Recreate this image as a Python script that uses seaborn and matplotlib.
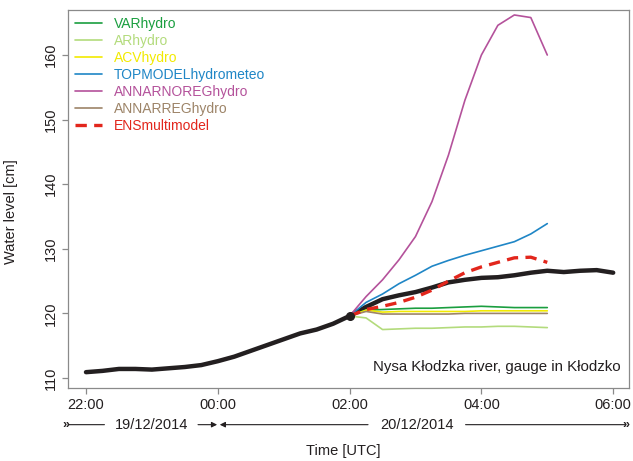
import numpy as np
import pandas as pd
import matplotlib
matplotlib.use("Agg")
import matplotlib.pyplot as plt
import matplotlib.dates as mdates
import matplotlib.transforms as mtransforms
import seaborn as sns

# observed water level, every 15 min from 22:00 (19/12) to 06:00 (20/12)
obs_times = pd.date_range("2014-12-19 22:00", "2014-12-20 06:00", freq="15min")
observed = [110.9, 111.1, 111.4, 111.4, 111.3, 111.5, 111.7, 112.0,
            112.6, 113.3, 114.2, 115.1, 116.0, 116.9, 117.5, 118.4,
            119.6, 121.0, 122.2, 122.8, 123.3, 124.0, 124.8, 125.2,
            125.5, 125.6, 125.9, 126.3, 126.6, 126.4, 126.6, 126.7, 126.3]

# forecasts issued at 02:00, lead time 3 h
fc_times = pd.date_range("2014-12-20 02:00", "2014-12-20 05:00", freq="15min")
var_hydro = [119.6, 120.5, 120.6, 120.7, 120.8, 120.8, 120.9, 121.0, 121.1, 121.0, 120.9, 120.9, 120.9]
ar_hydro = [119.6, 119.3, 117.5, 117.6, 117.7, 117.7, 117.8, 117.9, 117.9, 118.0, 118.0, 117.9, 117.8]
acv_hydro = [119.6, 120.5, 120.2, 120.3, 120.3, 120.3, 120.3, 120.3, 120.4, 120.4, 120.4, 120.4, 120.4]
topmodel = [119.6, 121.7, 123.0, 124.6, 125.9, 127.3, 128.2, 129.0, 129.7, 130.4, 131.1, 132.3, 133.9]
annarnoreg = [119.6, 122.6, 125.2, 128.3, 131.9, 137.3, 144.5, 153.0, 160.0, 164.6, 166.2, 165.8, 160.0]
annarreg = [119.6, 120.3, 119.9, 119.9, 119.9, 119.9, 119.9, 120.0, 120.0, 120.0, 120.0, 120.0, 120.0]
ens = [119.6, 120.6, 121.1, 121.7, 122.5, 123.6, 125.0, 126.3, 127.2, 127.9, 128.6, 128.7, 127.9]

model_names = ["VARhydro", "ARhydro", "ACVhydro", "TOPMODELhydrometeo",
               "ANNARNOREGhydro", "ANNARREGhydro"]
model_values = [var_hydro, ar_hydro, acv_hydro, topmodel, annarnoreg, annarreg]
model_colors = ["#1a9e3f", "#b3db7c", "#f2ea00", "#1f86c6", "#b4529b", "#9d8468"]

tick_times = pd.to_datetime(["2014-12-19 22:00", "2014-12-20 00:00", "2014-12-20 02:00",
                             "2014-12-20 04:00", "2014-12-20 06:00"])
tick_labels = ["22:00", "00:00", "02:00", "04:00", "06:00"]

sns.set_theme(style="ticks")
plt.rcParams["font.family"] = ["Liberation Sans", "DejaVu Sans"]
grey = "#8a8a8a"
txt = "#231f20"

fig = plt.figure(figsize=(6.33, 4.61), dpi=100)
ax = fig.add_axes([68 / 633, 1 - 388 / 461, 561 / 633, 378 / 461])

sns.lineplot(x=obs_times, y=observed, ax=ax, color=txt, lw=3.2, zorder=3)
for name, vals, col in zip(model_names, model_values, model_colors):
    sns.lineplot(x=fc_times, y=vals, ax=ax, color=col, lw=1.2, label=name, zorder=4)
sns.lineplot(x=fc_times, y=ens, ax=ax, color="#e2261c", lw=2.4, label="ENSmultimodel",
             zorder=5)
ax.lines[-1].set_dashes([3.4, 2.2])
ax.plot([fc_times[0]], [ens[0]], "o", color=txt, ms=5.5, zorder=6)

t0 = pd.Timestamp("2014-12-19 22:00")
h = pd.Timedelta(hours=1)
ax.set_xlim(t0 - 0.273 * h, t0 + 8.24 * h)
ax.set_ylim(108.45, 166.97)
ax.set_xticks(tick_times)
ax.set_xticklabels(tick_labels)
ax.set_yticks([110, 120, 130, 140, 150, 160])
ax.tick_params(axis="both", colors=grey, labelcolor=txt, labelsize=10.5, length=4, width=0.9)
for lab in ax.get_yticklabels():
    lab.set_rotation(90)
    lab.set_va("center")
for s in ax.spines.values():
    s.set_color(grey)
    s.set_linewidth(0.9)

ax.set_xlabel("")
ax.set_ylabel("Water level [cm]", fontsize=10.5, color=txt)
ax.yaxis.set_label_coords(-0.089, 0.466)

leg = ax.legend(loc="upper left", bbox_to_anchor=(-0.004, 1.008), frameon=False, fontsize=10,
                handlelength=1.9, labelspacing=0.22, handletextpad=0.85,
                borderaxespad=0.3, labelcolor="linecolor")

ax.text(0.985, 0.056, "Nysa Kłodzka river, gauge in Kłodzko", transform=ax.transAxes,
        ha="right", va="center", fontsize=10.8, color=txt)

# date row below the time axis
trans = mtransforms.blended_transform_factory(ax.transData, ax.transAxes)
yd = -0.097
def xt(hours):
    return mdates.date2num(t0 + hours * h)

ax.text(xt(1.0), yd, "19/12/2014", transform=trans, ha="center", va="center",
        fontsize=10.5, color=txt)
ax.text(xt(5.02), yd, "20/12/2014", transform=trans, ha="center", va="center",
        fontsize=10.5, color=txt)
arrow = dict(arrowstyle="-|>", color=txt, lw=0.8, mutation_scale=8, shrinkA=0, shrinkB=0)
line = dict(arrowstyle="-", color=txt, lw=0.8, shrinkA=0, shrinkB=0)
ax.annotate("", xy=(xt(0.28), yd), xytext=(xt(-0.27), yd), xycoords=trans,
            textcoords=trans, arrowprops=line, annotation_clip=False)
ax.annotate("", xy=(xt(1.99), yd), xytext=(xt(1.70), yd), xycoords=trans,
            textcoords=trans, arrowprops=arrow, annotation_clip=False)
ax.annotate("", xy=(xt(2.03), yd), xytext=(xt(4.28), yd), xycoords=trans,
            textcoords=trans, arrowprops=arrow, annotation_clip=False)
ax.annotate("", xy=(xt(8.18), yd), xytext=(xt(5.76), yd), xycoords=trans,
            textcoords=trans, arrowprops=line, annotation_clip=False)
ax.text(xt(-0.25), yd, "»", transform=trans, ha="right", va="center", fontsize=9,
        fontweight="bold", color=txt, clip_on=False)
ax.text(xt(8.14), yd, "»", transform=trans, ha="left", va="center", fontsize=9,
        fontweight="bold", color=txt, clip_on=False)

ax.text(0.49, -0.166, "Time [UTC]", transform=ax.transAxes, ha="center", va="center",
        fontsize=10.5, color=txt)

fig.savefig("out.png", dpi=100)
